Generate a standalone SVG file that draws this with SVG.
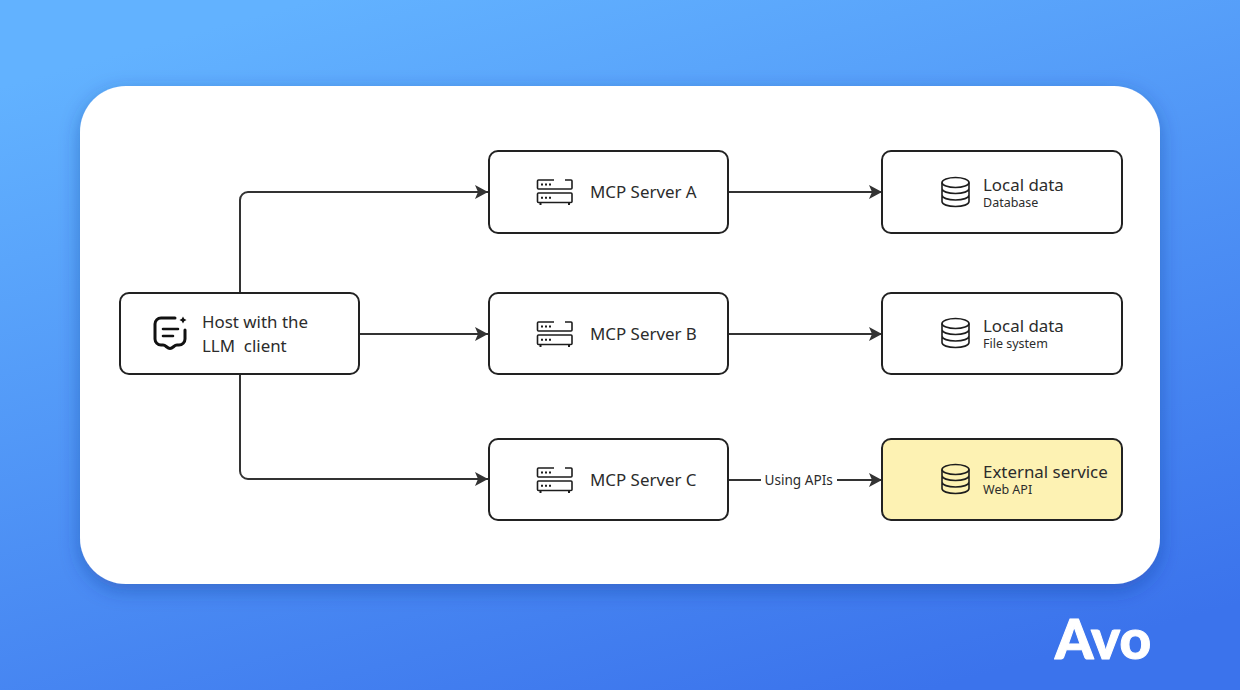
<svg xmlns="http://www.w3.org/2000/svg" width="1240" height="690" viewBox="0 0 1240 690">
<style>
.box{fill:#fff;stroke:#222;stroke-width:2}
.t{font-family:"Noto Sans","Open Sans",sans-serif;font-size:16.900px;fill:#2c2c2c}
.s{font-family:"Noto Sans","Open Sans",sans-serif;font-size:12.500px;fill:#2c2c2c}
.c{fill:none;stroke:#333;stroke-width:2}
.i{fill:none;stroke:#1d1d1d;stroke-width:1.600}
</style>
<defs>
<linearGradient id="bg" x1="0.25" y1="0" x2="0.75" y2="1"><stop offset="0" stop-color="#62b2ff"/><stop offset="1" stop-color="#3b73ec"/></linearGradient>
<filter id="sh" x="-10%" y="-10%" width="120%" height="125%"><feDropShadow dx="0" dy="6" stdDeviation="10" flood-color="#123a90" flood-opacity=".4"/></filter>
<marker id="a" markerUnits="userSpaceOnUse" markerWidth="15" markerHeight="16" refX="14" refY="8" orient="auto"><path d="M1 1L14 8L1 15L4 8Z" fill="#333"/></marker>
<g id="srv"><path class="i" d="M554 180H538.500a1 1 0 0 0-1 1V188a1 1 0 0 0 1 1H571a1 1 0 0 0 1-1V181a1 1 0 0 0-1-1H565"/><rect class="i" x="537.500" y="193" width="34.500" height="9.500" rx="1"/><path d="M540.500 203v2M569 203v2" stroke="#1d1d1d" stroke-width="2" fill="none"/><path d="M541 184.500h2M545 184.500h2M549 184.500h2M541 197.700h2M545 197.700h2M549 197.700h2" stroke="#1d1d1d" stroke-width="2" fill="none"/></g>
<g id="db"><ellipse class="i" cx="955.500" cy="182.500" rx="13.500" ry="5"/><path class="i" d="M942 182.500V201.500C942 204.500 948 206.500 955.500 206.500S969 204.500 969 201.500V182.500M942 188.500C942 191.500 948 193.500 955.500 193.500S969 191.500 969 188.500M942 195C942 198 948 200 955.500 200S969 198 969 195"/></g>
</defs>
<rect width="1240" height="690" fill="url(#bg)"/>
<rect x="80" y="86" width="1080" height="498" rx="46" fill="#fff" filter="url(#sh)"/>
<g id="connectors">
<path class="c" d="M240 293V200a8 8 0 0 1 8-8H488" marker-end="url(#a)"/>
<path class="c" d="M359 334H488" marker-end="url(#a)"/>
<path class="c" d="M240 374V471a8 8 0 0 0 8 8H488" marker-end="url(#a)"/>
<path class="c" d="M728 192H882" marker-end="url(#a)"/>
<path class="c" d="M728 334H882" marker-end="url(#a)"/>
<path class="c" d="M728 480H761" />
<path class="c" d="M837 480H882" marker-end="url(#a)"/>
<text class="s" x="764.500" y="485" style="font-size:13.600px">Using APIs</text>
</g>
<g id="host">
<rect class="box" x="120" y="293" width="239" height="81" rx="9"/>
<path d="M175 318H161a6 6 0 0 0-6 6V339a6 6 0 0 0 6 6H163C166 345 167 348.500 170 348.500S174 345 177 345H179a6 6 0 0 0 6-6V330" fill="none" stroke="#111" stroke-width="3" stroke-linecap="round" stroke-linejoin="round"/>
<path d="M163 329H178M163 336H173" stroke="#111" stroke-width="2.600" fill="none" stroke-linecap="round"/>
<path d="M183 316.500l1.200 2.300 2.300 1.200-2.300 1.200-1.200 2.300-1.200-2.300-2.300-1.200 2.300-1.200z" fill="#111"/>
<text class="t" x="202" y="328">Host with the</text>
<text class="t" x="202" y="352" xml:space="preserve">LLM  client</text>
</g>
<g id="server-a"><rect class="box" x="489" y="151" width="239" height="82" rx="9"/><use href="#srv"/><text class="t" x="590" y="198">MCP Server A</text></g>
<g id="server-b"><rect class="box" x="489" y="293" width="239" height="81" rx="9"/><use href="#srv" y="142"/><text class="t" x="590" y="340">MCP Server B</text></g>
<g id="server-c"><rect class="box" x="489" y="439" width="239" height="81" rx="9"/><use href="#srv" y="288"/><text class="t" x="590" y="486">MCP Server C</text></g>
<g id="data-a"><rect class="box" x="882" y="151" width="240" height="82" rx="9"/><use href="#db"/><text class="t" x="983" y="191">Local data</text><text class="s" x="983" y="207">Database</text></g>
<g id="data-b"><rect class="box" x="882" y="293" width="240" height="81" rx="9"/><use href="#db" y="141"/><text class="t" x="983" y="332">Local data</text><text class="s" x="983" y="348">File system</text></g>
<g id="data-c"><rect class="box" x="882" y="439" width="240" height="81" rx="9" style="fill:#fdf2b3"/><use href="#db" y="287"/><text class="t" x="983" y="478">External service</text><text class="s" x="983" y="494">Web API</text></g>
<text id="logo" x="1055" y="659" font-family="Lato,Inter,sans-serif" font-weight="900" font-size="55" fill="#fff" stroke="#fff" stroke-width="1" stroke-linejoin="round" textLength="96" lengthAdjust="spacingAndGlyphs">Avo</text>
</svg>
